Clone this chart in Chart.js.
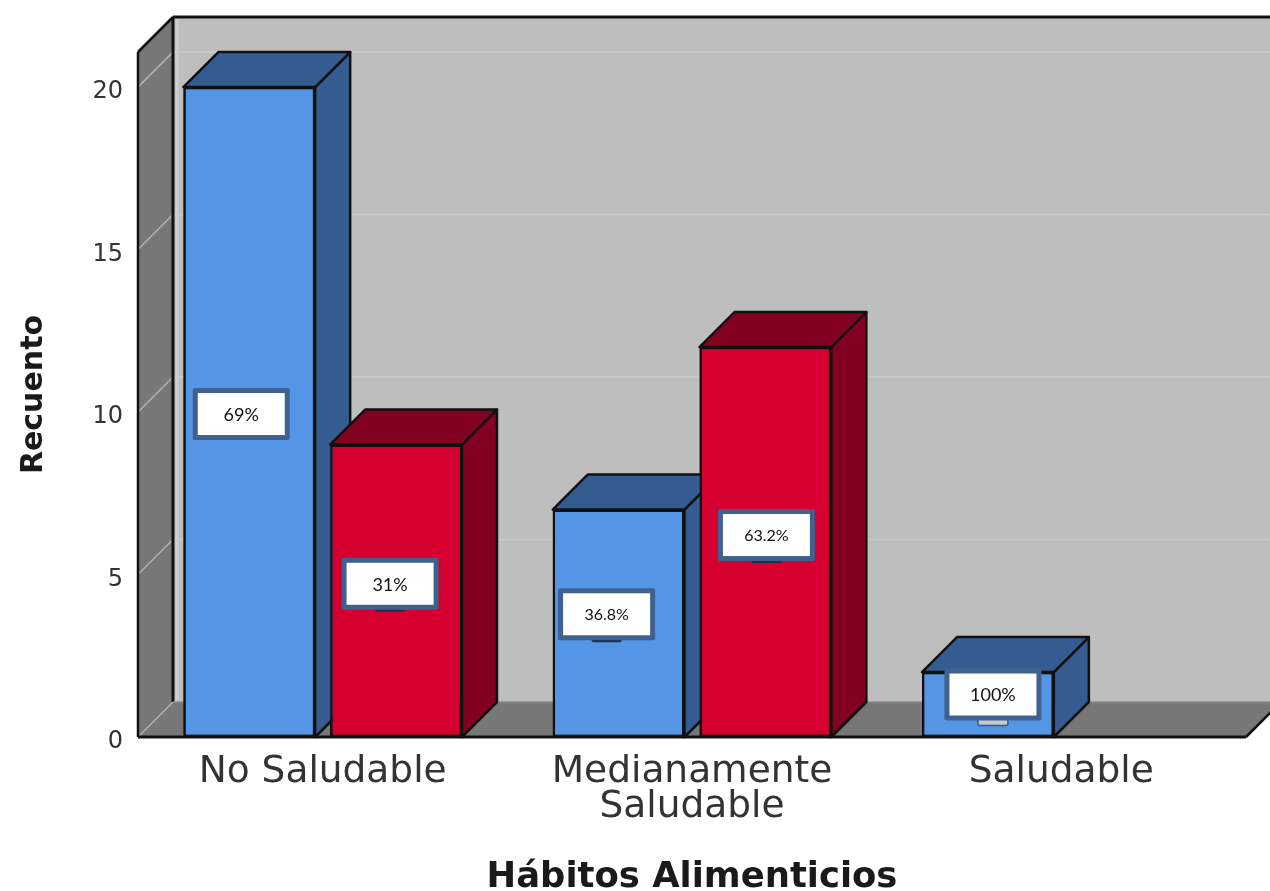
<!DOCTYPE html>
<html>
<head>
<meta charset="utf-8">
<title>Hábitos Alimenticios</title>
<script src="https://cdn.jsdelivr.net/npm/chart.js@4/dist/chart.umd.min.js"></script>
<style>
    html, body { margin: 0; padding: 0; background: #ffffff; }
    canvas { display: block; }
</style>
</head>
<body>
<canvas id="myChart" width="1270" height="891"></canvas>
<script>
const categories = ['No Saludable', ['Medianamente', 'Saludable'], 'Saludable'];
const blueCounts = [20, 7, 2];
const redCounts = [9, 12, null];
const bluePercents = ['69%', '36.8%', '100%'];
const redPercents = ['31%', '63.2%', null];
const yTicks = [0, 5, 10, 15, 20];

const DEPTH = 35;
const OUTLINE = '#111111';
const BLUE = { front: '#5595e6', side: '#345c90' };
const RED = { front: '#d5002f', side: '#820020' };

// how far each white box sits from the centre of its bar
const blueBoxShift = [[-8, 2], [-12, -9], [5, -10]];
const redBoxShift = [[-6, -7], [1, -7], null];

function poly(ctx, points, fill, stroke, width) {
    ctx.beginPath();
    points.forEach((p, i) => i ? ctx.lineTo(p[0], p[1]) : ctx.moveTo(p[0], p[1]));
    ctx.closePath();
    if (fill) {
        ctx.fillStyle = fill;
        ctx.fill();
    }
    if (stroke) {
        ctx.strokeStyle = stroke;
        ctx.lineWidth = width || 2;
        ctx.lineJoin = 'round';
        ctx.stroke();
    }
}

function line(ctx, x1, y1, x2, y2, color, width) {
    ctx.beginPath();
    ctx.moveTo(x1, y1);
    ctx.lineTo(x2, y2);
    ctx.strokeStyle = color;
    ctx.lineWidth = width;
    ctx.stroke();
}

const walls = {
    id: 'walls',
    afterLayout(chart) {
        // the y labels sit a little below their grid lines in the original
        chart.scales.y.getLabelItems(chart.chartArea).forEach(item => {
            item.options.translation[1] += 5;
        });
    },
    beforeDatasetsDraw(chart) {
        const ctx = chart.ctx;
        const a = chart.chartArea;
        const y = chart.scales.y;
        const far = a.right + DEPTH;
        ctx.save();
        // back wall
        poly(ctx, [[a.left + DEPTH, a.top - DEPTH], [far, a.top - DEPTH], [far, a.bottom - DEPTH], [a.left + DEPTH, a.bottom - DEPTH]], '#bebebe');
        // left wall and floor
        poly(ctx, [[a.left, a.top], [a.left + DEPTH, a.top - DEPTH], [a.left + DEPTH, a.bottom - DEPTH], [a.left, a.bottom]], '#777777');
        poly(ctx, [[a.left, a.bottom], [a.left + DEPTH, a.bottom - DEPTH], [far, a.bottom - DEPTH], [a.right, a.bottom]], '#777777');
        // grid lines
        yTicks.forEach(v => {
            const py = y.getPixelForValue(v);
            if (v > 0) {
                line(ctx, a.left + DEPTH, py - DEPTH, far, py - DEPTH, '#c8c8c8', 2);
            }
            line(ctx, a.left, py, a.left + DEPTH, py - DEPTH, '#b4b4b4', 1.5);
        });
        // pale strip next to the wall corner
        line(ctx, a.left + DEPTH + 4, a.top - DEPTH + 2, a.left + DEPTH + 4, a.bottom - DEPTH, '#cfcfcf', 3);
        // outlines
        line(ctx, a.left + DEPTH, a.top - DEPTH, far, a.top - DEPTH, OUTLINE, 3);
        line(ctx, a.left + DEPTH, a.top - DEPTH, a.left + DEPTH, a.bottom - DEPTH, OUTLINE, 3);
        line(ctx, a.left, a.top, a.left + DEPTH, a.top - DEPTH, OUTLINE, 2.5);
        line(ctx, a.left, a.top, a.left, a.bottom, OUTLINE, 2.5);
        line(ctx, a.left, a.bottom, a.right, a.bottom, OUTLINE, 3);
        line(ctx, a.right, a.bottom, far, a.bottom - DEPTH, OUTLINE, 2.5);
        line(ctx, a.left + DEPTH, a.bottom - DEPTH, far, a.bottom - DEPTH, '#8c8c8c', 1.5);
        ctx.restore();
    },
    afterDatasetsDraw(chart) {
        const ctx = chart.ctx;
        const bars = [];
        chart.data.datasets.forEach((ds, d) => {
            chart.getDatasetMeta(d).data.forEach((bar, i) => {
                if (ds.data[i] !== null) {
                    bars.push({ bar, colors: d === 0 ? BLUE : RED });
                }
            });
        });
        // left to right, so each bar covers the side of the one before it
        bars.sort((p, q) => p.bar.x - q.bar.x);
        ctx.save();
        bars.forEach(({ bar, colors }) => {
            const l = bar.x - bar.width / 2;
            const r = bar.x + bar.width / 2;
            poly(ctx, [[r, bar.y], [r + DEPTH, bar.y - DEPTH], [r + DEPTH, bar.base - DEPTH], [r, bar.base]], colors.side, OUTLINE, 2.5);
            poly(ctx, [[l, bar.y], [l + DEPTH, bar.y - DEPTH], [r + DEPTH, bar.y - DEPTH], [r, bar.y]], colors.side, OUTLINE, 2.5);
            bar.draw(ctx, chart.chartArea);
        });
        ctx.restore();
    },
    afterDraw(chart) {
        const ctx = chart.ctx;
        ctx.save();
        drawBoxes(chart, 0, bluePercents, blueBoxShift);
        drawBoxes(chart, 1, redPercents, redBoxShift);
        ctx.restore();
    }
};

function drawBoxes(chart, datasetIndex, texts, shifts) {
    const ctx = chart.ctx;
    const W = 97;
    const H = 52;
    chart.getDatasetMeta(datasetIndex).data.forEach((bar, i) => {
        if (!texts[i]) return;
        const cx = bar.x + shifts[i][0];
        const cy = (bar.y + bar.base) / 2 + shifts[i][1];
        const last = texts[i] === '100%';
        // end of the older label showing under the box (not under the first one)
        if (texts[i] !== '69%') {
            ctx.beginPath();
            ctx.roundRect(cx - 15, cy + H / 2 - 3, 30, last ? 8 : 5, 2);
            ctx.fillStyle = last ? '#c9c9c9' : '#1f2f45';
            ctx.fill();
            if (last) {
                ctx.strokeStyle = '#345c90';
                ctx.lineWidth = 1.5;
                ctx.stroke();
            }
        }
        ctx.beginPath();
        ctx.roundRect(cx - W / 2, cy - H / 2, W, H, 2);
        ctx.fillStyle = '#3e6190';
        ctx.fill();
        ctx.fillStyle = '#ffffff';
        ctx.fillRect(cx - W / 2 + 5, cy - H / 2 + 5, W - 10, H - 10);
        ctx.fillStyle = '#111111';
        ctx.font = (texts[i].length > 4 ? '16px' : '18px') + ' Lato';
        ctx.textAlign = 'center';
        ctx.textBaseline = 'middle';
        ctx.fillText(texts[i], cx, cy + 1);
    });
}

const ctx = document.getElementById('myChart').getContext('2d');
const myChart = new Chart(ctx, {
    type: 'bar',
    data: {
        labels: categories,
        datasets: [
            {
                label: 'Saludable',
                data: blueCounts,
                backgroundColor: BLUE.front,
                borderColor: OUTLINE,
                borderWidth: 2.5,
                borderSkipped: false
            },
            {
                label: 'No Saludable',
                data: redCounts,
                backgroundColor: RED.front,
                borderColor: OUTLINE,
                borderWidth: 2.5,
                borderSkipped: false
            }
        ]
    },
    options: {
        responsive: false,
        animation: false,
        categoryPercentage: 0.795,
        barPercentage: 0.898,
        layout: { padding: { top: 52, right: 24, left: 0, bottom: 0 } },
        plugins: {
            legend: { display: false },
            tooltip: { enabled: false }
        },
        scales: {
            x: {
                grid: { display: false },
                border: { display: false },
                ticks: {
                    color: '#333333',
                    padding: 10,
                    maxRotation: 0,
                    autoSkip: false,
                    font: { family: 'DejaVu Sans', size: 37.5, lineHeight: 0.93 }
                },
                title: {
                    display: true,
                    text: 'Hábitos Alimenticios',
                    color: '#1a1a1a',
                    padding: { top: 30, bottom: -5 },
                    font: { family: 'DejaVu Sans', size: 35.4, weight: 'bold', lineHeight: 1 }
                },
                afterFit(scale) { scale.height = 154; }
            },
            y: {
                min: 0,
                max: 21.08,
                grid: { display: false },
                border: { display: false },
                afterBuildTicks(scale) { scale.ticks = yTicks.map(v => ({ value: v })); },
                ticks: {
                    color: '#333333',
                    padding: 7,
                    font: { family: 'DejaVu Sans', size: 24 }
                },
                title: {
                    display: true,
                    text: 'Recuento',
                    color: '#1a1a1a',
                    padding: { top: 19, bottom: 0 },
                    font: { family: 'DejaVu Sans', size: 30, weight: 'bold', lineHeight: 1 }
                },
                afterFit(scale) { scale.width = 138; }
            }
        }
    },
    plugins: [walls]
});
</script>
</body>
</html>
